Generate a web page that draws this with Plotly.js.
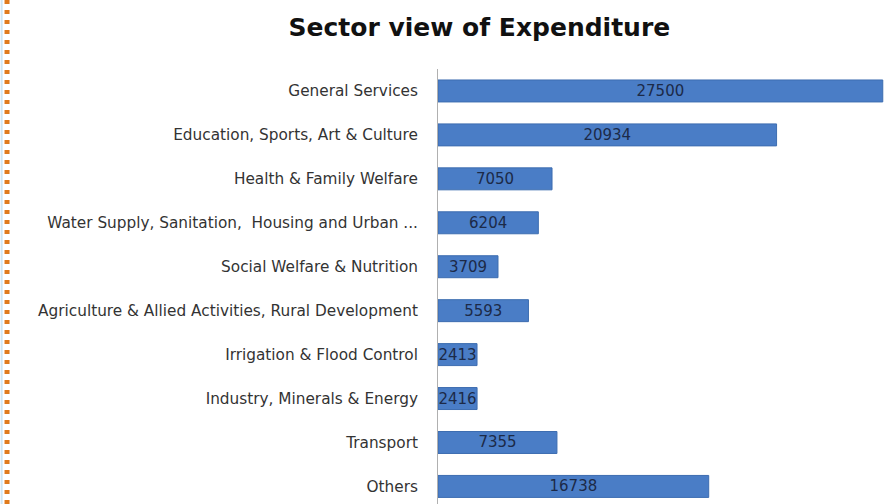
<!DOCTYPE html>
<html>
<head>
<meta charset="utf-8">
<script src="https://cdn.plot.ly/plotly-3.0.1.min.js"></script>
<style>html,body{margin:0;padding:0;background:#fff;}#chart{width:896px;height:504px;}</style>
</head>
<body>
<div id="chart"></div>
<script>
const categories = [
  "General Services",
  "Education, Sports, Art & Culture",
  "Health & Family Welfare",
  "Water Supply, Sanitation,  Housing and Urban ...",
  "Social Welfare & Nutrition",
  "Agriculture & Allied Activities, Rural Development",
  "Irrigation & Flood Control",
  "Industry, Minerals & Energy",
  "Transport",
  "Others"
];
const expenditure = [27500, 20934, 7050, 6204, 3709, 5593, 2413, 2416, 7355, 16738];
const valueLabels = expenditure.map(v => String(v));

const trace = {
  type: "bar",
  orientation: "h",
  y: categories,
  x: expenditure,
  text: valueLabels,
  textposition: "inside",
  insidetextanchor: "middle",
  constraintext: "none",
  textfont: {family: "'DejaVu Sans', sans-serif", size: 15, color: "#1c2a48"},
  marker: {color: "#4a7dc6", line: {color: "#3d6db0", width: 1}},
  width: 0.5,
  hoverinfo: "none"
};

const layout = {
  width: 896, height: 504,
  margin: {l: 438, r: 10, t: 69, b: 0},
  paper_bgcolor: "#ffffff",
  plot_bgcolor: "#ffffff",
  showlegend: false,
  title: {
    text: "<b>Sector view of Expenditure</b>",
    font: {family: "'DejaVu Sans', sans-serif", size: 25, color: "#111111"},
    x: 0.535, xanchor: "center", y: 0.945, yanchor: "middle"
  },
  xaxis: {range: [0, 27700], showgrid: false, zeroline: false, showticklabels: false, showline: false, ticks: ""},
  yaxis: {
    type: "category",
    range: [9.4, -0.5],
    showgrid: false, zeroline: false,
    showline: true, linecolor: "#b0b0b0", linewidth: 1,
    ticks: "", ticklabelstandoff: 16,
    tickfont: {family: "'DejaVu Sans', sans-serif", size: 15.3, color: "#333333"}
  },
  shapes: [
    {type: "line", xref: "paper", yref: "paper", x0: -0.962, x1: -0.962, y0: 0, y1: 1.2,
     line: {color: "#e07a1c", width: 5, dash: "4px,6px"}},
    {type: "line", xref: "paper", yref: "paper", x0: -0.974, x1: -0.974, y0: 0, y1: 1.2,
     line: {color: "#cfe6f5", width: 2}}
  ]
};

Plotly.newPlot("chart", [trace], layout, {displayModeBar: false, staticPlot: true});
</script>
</body>
</html>
